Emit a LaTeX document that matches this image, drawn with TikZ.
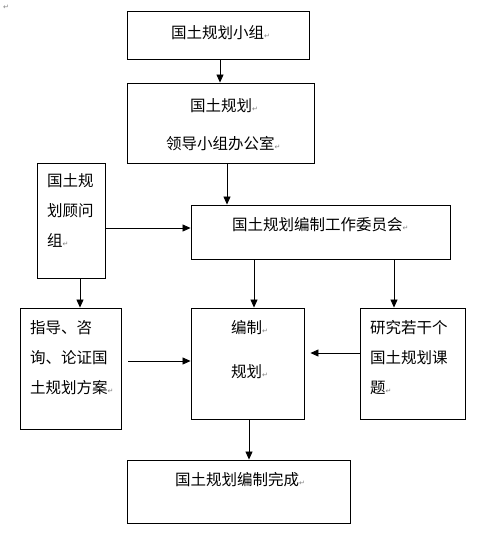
\documentclass[tikz,border=0pt]{standalone}
\usepackage{fontspec}
\setmainfont{Noto Sans CJK SC}
\newfontfamily\symfont{DejaVu Sans}
\usetikzlibrary{arrows.meta}
\newcommand\pmk{{\symfont\color{gray}\fontsize{7}{7}\selectfont ↵}}

\tikzset{
  box/.style={draw, line width=0.9pt, inner sep=0pt},
  txt/.style={inner sep=0pt, font=\fontsize{15.5}{30}\selectfont, align=left},
  arr/.style={line width=0.8pt, -{Triangle[length=8pt,width=7pt]}}
}

\begin{document}
\begin{tikzpicture}[x=1pt, y=-1pt]
          \useasboundingbox (0,0) rectangle (478,541);

          \node[txt, anchor=west] (mark0) at (3,7) {\pmk};

          \node[box, minimum width=182pt, minimum height=48pt] (top) at (218,35) {};
          \node[box, minimum width=187pt, minimum height=80pt] (lead) at (220.5,123) {};
          \node[box, minimum width=68pt, minimum height=115pt] (advise) at (71,220.5) {};
          \node[box, minimum width=259pt, minimum height=54pt] (work) at (320.5,232) {};
          \node[box, minimum width=101pt, minimum height=121pt] (guide) at (70.5,368.5) {};
          \node[box, minimum width=113pt, minimum height=111pt] (plan) at (247.5,363.5) {};
          \node[box, minimum width=105pt, minimum height=111pt] (study) at (412.5,363.5) {};
          \node[box, minimum width=223pt, minimum height=63pt] (done) at (238.5,491.5) {};

          \node[txt, anchor=west] (top-t) at (171,33) {国土规划小组\pmk};
          \node[txt, anchor=west] (lead-t1) at (190,106) {国土规划\pmk};
          \node[txt, anchor=west] (lead-t2) at (166,144) {领导小组办公室\pmk};
          \node[txt, anchor=north west] (advise-t) at (47,173.3) {国土规\\划顾问\\组\pmk};
          \node[txt, anchor=west] (work-t) at (232,225) {国土规划编制工作委员会\pmk};
          \node[txt, anchor=north west] (guide-t) at (30,320.3) {指导、咨\\询、论证国\\土规划方案\pmk};
          \node[txt, anchor=west] (plan-t1) at (231,328) {编制\pmk};
          \node[txt, anchor=west] (plan-t2) at (231,372) {规划\pmk};
          \node[txt, anchor=north west] (study-t) at (370,320.3) {研究若干个\\国土规划课\\题\pmk};
          \node[txt, anchor=west] (done-t) at (175,480) {国土规划编制完成\pmk};

          \draw[arr] ([xshift=2pt]top.south) -- ([xshift=2pt]top.south |- lead.north);
          \draw[arr] ([xshift=6.5pt]lead.south) -- ([xshift=6.5pt]lead.south |- work.north);
          \draw[arr] ([yshift=-7.5pt]advise.east) -- ([yshift=-7.5pt]advise.east -| work.west);
          \draw[arr] ([xshift=9pt]advise.south) -- ([xshift=9pt]advise.south |- guide.north);
          \draw[arr] ([xshift=-66.5pt]work.south) -- ([xshift=-66.5pt]work.south |- plan.north);
          \draw[arr] ([xshift=73.5pt]work.south) -- ([xshift=73.5pt]work.south |- study.north);
          \draw[arr, shorten >=6pt] ([yshift=10.5pt]study.west) -- ([yshift=10.5pt]study.west -| plan.east);
          \draw[arr, shorten <=7pt] ([yshift=7.5pt]guide.east) -- ([yshift=7.5pt]guide.east -| plan.west);
          \draw[arr] ([xshift=1.5pt]plan.south) -- ([xshift=1.5pt]plan.south |- done.north);

        \end{tikzpicture}
\end{document}
